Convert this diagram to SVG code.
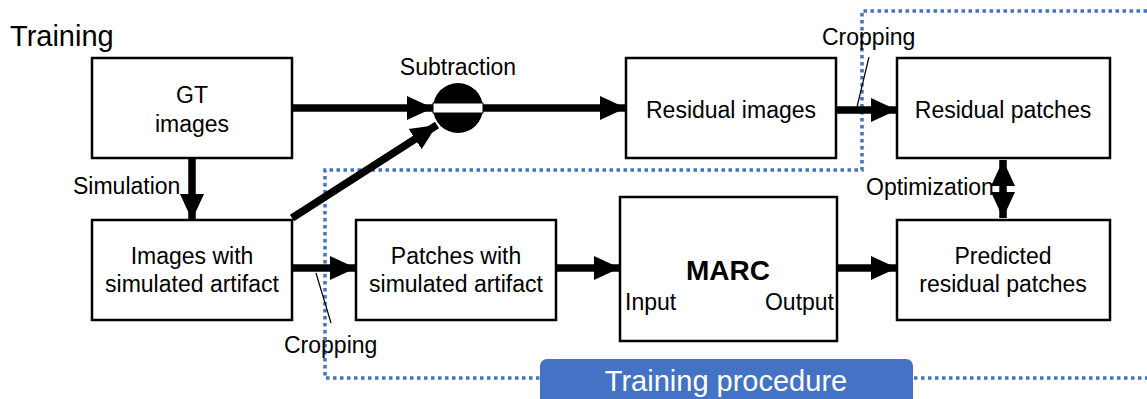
<svg xmlns="http://www.w3.org/2000/svg" width="1147" height="399" viewBox="0 0 1147 399">
<style>
.box{fill:#fff;stroke:#000;stroke-width:2.5}
.t{font-family:"Liberation Sans",Arial,sans-serif;font-size:23px;fill:#000}
.c{text-anchor:middle}
.arr{stroke:#000;stroke-width:7.5;fill:none}
.thin{stroke:#000;stroke-width:1.2;fill:none}
.dot{stroke:#4472C4;stroke-width:3.5;fill:none;stroke-dasharray:3.5 3.5}
</style>
<defs>
<marker id="ah" markerUnits="userSpaceOnUse" markerWidth="28" markerHeight="28" viewBox="0 0 28 28" refX="26" refY="14" orient="auto">
<path d="M0,2 L26,14 L0,26 Z" fill="#000"/>
</marker>
<marker id="ahs" markerUnits="userSpaceOnUse" markerWidth="28" markerHeight="28" viewBox="0 0 28 28" refX="26" refY="14" orient="auto-start-reverse">
<path d="M0,2 L26,14 L0,26 Z" fill="#000"/>
</marker>
</defs>
<rect width="1147" height="399" fill="#fff"/>
<text class="t" x="10" y="46" style="font-size:29px">Training</text>

<g id="dotted">
<path class="dot" d="M1147,11 H862 V170 H325 V378 H1147"/>
</g>

<g id="connectors">
<path class="arr" d="M292,108 H433" marker-end="url(#ah)"/>
<path class="arr" d="M292,218 L437,125" marker-end="url(#ah)"/>
<path class="arr" d="M483,108 H626" marker-end="url(#ah)"/>
<path class="arr" d="M836,110 H897" marker-end="url(#ah)"/>
<path class="arr" d="M192,158 V220" marker-end="url(#ah)"/>
<path class="arr" d="M292,268 H356" marker-end="url(#ah)"/>
<path class="arr" d="M556,268 H620" marker-end="url(#ah)"/>
<path class="arr" d="M837,268 H897" marker-end="url(#ah)"/>
<path class="arr" d="M1003,160 V218" marker-start="url(#ahs)" marker-end="url(#ah)"/>
<path class="thin" d="M316,273 L331,323"/>
<path class="thin" d="M869,57 L857,107"/>
</g>

<g id="subtraction">
<circle cx="458" cy="108" r="25" fill="#000"/>
<rect x="433" y="103" width="50" height="10" fill="#fff" stroke="#000" stroke-width="1"/>
<text class="t c" x="458" y="75">Subtraction</text>
</g>

<g id="gt">
<rect class="box" x="92" y="58" width="200" height="100"/>
<text class="t c" x="192" y="103">GT</text>
<text class="t c" x="192" y="132">images</text>
</g>
<g id="artifact">
<rect class="box" x="92" y="220" width="200" height="100"/>
<text class="t c" x="192" y="264">Images with</text>
<text class="t c" x="192" y="292">simulated artifact</text>
</g>
<g id="patches">
<rect class="box" x="356" y="220" width="200" height="100"/>
<text class="t c" x="456" y="264">Patches with</text>
<text class="t c" x="456" y="292">simulated artifact</text>
</g>
<g id="marc">
<rect class="box" x="620" y="197" width="217" height="144"/>
<text class="t c" x="728" y="280" style="font-size:28px;font-weight:bold">MARC</text>
<text class="t" x="625" y="310">Input</text>
<text class="t" x="834" y="310" text-anchor="end">Output</text>
</g>
<g id="residual-images">
<rect class="box" x="626" y="58" width="210" height="100"/>
<text class="t c" x="731" y="118">Residual images</text>
</g>
<g id="residual-patches">
<rect class="box" x="897" y="58" width="213" height="100"/>
<text class="t c" x="1003" y="118">Residual patches</text>
</g>
<g id="predicted">
<rect class="box" x="897" y="220" width="213" height="100"/>
<text class="t c" x="1003" y="264">Predicted</text>
<text class="t c" x="1003" y="292">residual patches</text>
</g>

<g id="labels">
<text class="t" x="73" y="194">Simulation</text>
<text class="t" x="822" y="45">Cropping</text>
<text class="t" x="284" y="353">Cropping</text>
<text class="t" x="866" y="195">Optimization</text>
</g>

<g id="training-procedure">
<rect x="540" y="359" width="373" height="48" rx="7" fill="#4472C4"/>
<text x="726" y="391" text-anchor="middle" style="font-family:'Liberation Sans',Arial,sans-serif;font-size:29px;fill:#fff">Training procedure</text>
</g>
</svg>
